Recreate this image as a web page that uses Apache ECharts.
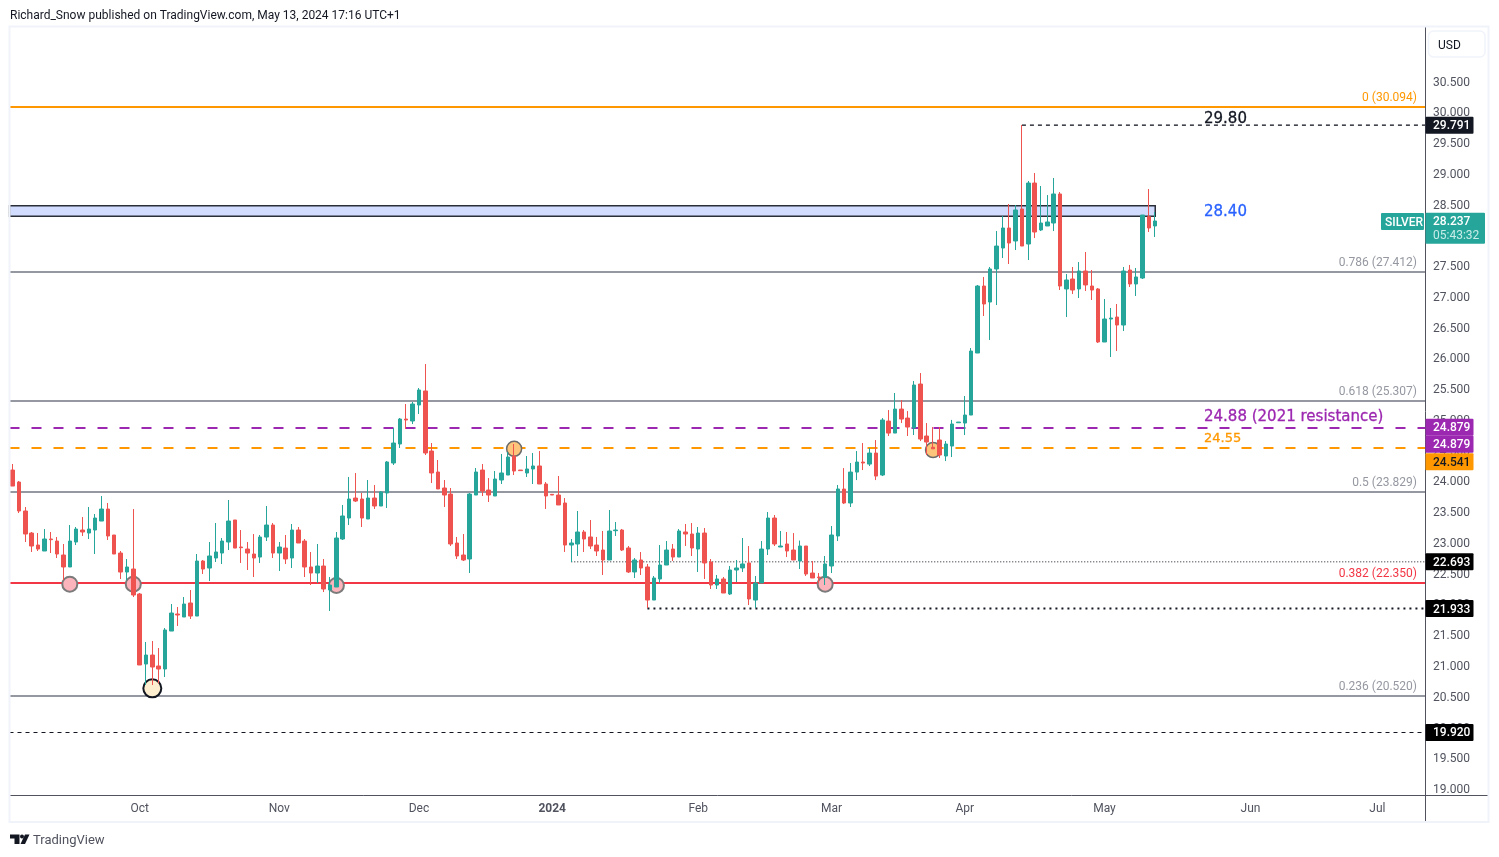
<!DOCTYPE html>
<html>
<head>
<meta charset="utf-8">
<title>Silver daily</title>
<script src="https://cdn.jsdelivr.net/npm/echarts@6/dist/echarts.min.js"></script>
<style>
html, body { margin: 0; padding: 0; background: #fff; }
#main { width: 1499px; height: 857px; }
</style>
</head>
<body>
<div id="main"></div>
<script>
var opens = [
	24.185,23.990,23.519,23.161,22.966,22.869,23.064,23.031,22.804,22.609,
	23.015,23.210,23.161,23.210,23.356,23.551,23.129,22.836,22.527,22.576,
	22.170,21.032,21.178,21.000,20.951,21.568,21.845,21.796,22.024,21.812,
	22.706,22.592,22.755,22.836,23.015,23.373,22.934,22.901,22.820,22.771,
	23.096,23.291,22.836,22.917,22.755,23.210,23.031,22.609,22.511,22.625,
	22.235,22.284,23.064,23.405,23.730,23.714,23.389,23.730,23.600,23.812,
	24.299,24.608,25.014,24.982,25.242,25.470,24.494,24.153,23.893,23.795,
	22.999,22.804,22.739,23.779,24.185,23.860,23.763,24.023,24.104,24.413,
	24.185,24.137,24.202,24.251,23.958,23.790,23.779,23.649,22.966,22.983,
	23.178,23.097,22.966,22.885,22.723,23.199,23.210,22.918,22.528,22.723,
	22.609,22.072,22.414,22.641,22.901,22.771,23.178,23.145,22.901,23.161,
	22.690,22.316,22.414,22.170,22.560,22.593,22.674,22.072,22.349,22.901,
	23.405,22.934,22.983,22.885,22.706,22.950,22.511,22.446,22.441,22.625,
	23.113,23.876,23.649,24.152,24.315,24.282,24.461,24.104,24.981,24.786,
	25.176,25.030,24.868,25.583,24.738,24.555,24.673,24.413,24.575,24.954,
	24.949,25.079,26.087,27.176,26.916,27.453,27.794,28.119,27.908,28.428,
	27.859,28.850,28.087,28.152,28.200,28.672,27.128,27.290,27.128,27.420,
	27.176,27.128,26.266,26.640,26.672,26.542,27.436,27.209,27.306,28.303,
	28.152
];
var closes = [
	23.925,23.519,23.145,22.950,22.901,23.064,23.053,22.820,22.609,23.031,
	23.226,23.178,23.226,23.405,23.551,23.113,22.820,22.527,22.609,22.154,
	21.016,21.178,20.983,20.951,21.585,21.861,21.829,22.007,21.812,22.706,
	22.576,22.788,22.853,23.031,23.356,22.917,22.923,22.836,22.755,23.096,
	23.291,22.836,22.934,22.739,23.210,22.999,22.609,22.511,22.625,22.251,
	22.316,23.080,23.438,23.714,23.681,23.405,23.730,23.600,23.828,24.316,
	24.624,25.014,24.998,25.258,25.486,24.462,24.137,23.877,23.779,22.983,
	22.788,22.723,23.795,24.153,23.844,23.779,24.039,24.137,24.397,24.169,
	24.175,24.202,24.251,23.958,23.763,23.779,23.617,22.966,22.999,23.178,
	23.064,22.950,22.869,22.723,23.194,23.210,22.885,22.528,22.723,22.593,
	22.072,22.430,22.641,22.885,22.771,23.194,23.145,22.918,23.161,22.674,
	22.316,22.414,22.186,22.560,22.593,22.658,22.089,22.349,22.901,23.405,
	22.983,22.950,22.869,22.723,22.950,22.495,22.430,22.435,22.658,23.129,
	23.877,23.649,24.152,24.315,24.299,24.461,24.087,24.998,24.786,25.176,
	25.014,24.884,25.567,24.689,24.640,24.530,24.429,24.608,24.933,24.965,
	25.079,26.119,27.176,26.884,27.453,27.826,28.119,27.875,28.412,27.826,
	28.850,28.054,28.200,28.217,28.672,27.176,27.274,27.111,27.420,27.193,
	27.111,26.266,26.640,26.656,26.542,27.420,27.209,27.323,28.330,28.119,
	28.233
];
var lows = [
	23.925,23.486,23.015,22.853,22.869,22.869,22.836,22.755,22.397,22.609,
	22.966,23.113,23.064,22.820,23.356,23.048,22.820,22.414,22.397,22.121,
	21.016,20.691,20.691,20.718,20.821,21.568,21.650,21.796,21.764,21.812,
	22.495,22.381,22.690,22.657,22.885,22.917,22.674,22.560,22.446,22.674,
	23.031,22.755,22.544,22.657,22.592,22.999,22.446,22.316,22.349,22.202,
	21.894,22.284,23.048,23.291,23.665,23.259,23.389,23.552,23.600,23.568,
	24.267,24.543,24.852,24.933,25.096,24.429,23.974,23.877,23.584,22.950,
	22.739,22.706,22.511,23.779,23.763,23.665,23.763,23.958,24.104,24.104,
	24.175,24.072,23.958,23.958,23.552,23.779,23.617,22.853,22.690,22.788,
	22.853,22.901,22.788,22.479,22.723,23.113,22.869,22.511,22.430,22.479,
	21.942,22.072,22.349,22.641,22.706,22.771,22.950,22.788,22.528,22.414,
	22.251,22.251,22.186,22.154,22.365,22.528,21.991,21.942,22.349,22.804,
	22.950,22.934,22.771,22.723,22.576,22.463,22.430,22.343,22.316,22.511,
	23.031,23.632,23.584,24.022,24.185,24.250,24.022,24.087,24.738,24.786,
	24.949,24.738,24.754,24.656,24.429,24.530,24.380,24.331,24.396,24.954,
	24.754,25.079,26.087,26.689,26.299,26.867,27.631,27.534,27.761,27.826,
	27.599,27.956,28.070,28.152,28.070,27.111,26.672,27.046,26.981,27.095,
	26.949,26.250,26.266,26.022,26.120,26.445,27.160,27.014,27.290,28.054,
	27.973
];
var highs = [
	24.283,24.007,23.584,23.178,23.161,23.226,23.178,23.096,22.983,23.291,
	23.259,23.421,23.584,23.470,23.763,23.649,23.129,22.869,22.739,23.551,
	22.186,21.390,21.406,21.292,21.617,22.007,21.959,22.121,22.235,22.820,
	22.723,23.015,23.324,23.080,23.698,23.373,23.210,23.015,23.145,23.129,
	23.600,23.324,23.015,23.129,23.308,23.259,23.064,22.853,22.983,22.739,
	22.446,23.178,23.617,24.072,24.137,23.812,24.023,23.942,23.844,24.332,
	24.868,25.031,25.258,25.291,25.518,25.908,24.624,24.348,24.023,23.893,
	23.097,23.145,23.812,24.218,24.283,24.055,24.169,24.446,24.478,24.608,
	24.185,24.413,24.462,24.494,23.990,23.795,24.088,23.730,23.064,23.519,
	23.210,23.373,23.097,23.194,23.535,23.340,23.227,22.950,22.755,22.853,
	22.658,22.463,22.966,23.031,22.983,23.226,23.308,23.324,23.259,23.243,
	22.739,22.479,22.446,22.625,22.723,23.080,22.950,22.463,23.031,23.503,
	23.454,23.194,23.178,23.161,23.039,22.950,22.706,22.511,22.788,23.275,
	23.942,24.217,24.299,24.494,24.624,24.543,24.673,25.030,25.160,25.437,
	25.323,25.144,25.632,25.762,24.949,24.884,24.884,24.656,25.000,24.965,
	25.388,26.168,27.193,27.323,27.485,28.070,28.314,28.509,28.493,29.793,
	28.883,29.013,28.802,28.655,28.932,28.704,27.371,27.485,27.566,27.729,
	27.436,27.144,26.965,26.819,26.884,27.485,27.518,27.469,28.330,28.753,
	28.379
];

var monthLabels = ['Oct', 'Nov', 'Dec', '2024', 'Feb', 'Mar', 'Apr', 'May', 'Jun', 'Jul'];
var monthStarts = [20, 42, 64, 85, 108, 129, 150, 172, 195, 215];
var priceTicks = [19, 19.5, 20, 20.5, 21, 21.5, 22, 22.5, 23, 23.5, 24, 24.5, 25, 25.5, 26, 26.5, 27, 27.5, 28, 28.5, 29, 29.5, 30, 30.5];

var fibLevels = [30.094, 27.412, 25.307, 23.829, 22.350, 20.520];
var fibNames = ['0 (30.094)', '0.786 (27.412)', '0.618 (25.307)', '0.5 (23.829)', '0.382 (22.350)', '0.236 (20.520)'];

var zoneTop = 28.481;
var zoneBottom = 28.309;
var zoneEnd = 180;

var resistance = 24.879;
var support = 24.541;
var lowDash = 19.920;
var highDash = 29.791, highDashStart = 159;
var thinDots = 22.693, thinDotsStart = 88;
var boldDots = 21.933, boldDotsStart = 100;

var redTouchIdx = [9, 19, 51, 128];
var redTouchPrice = [22.33, 22.33, 22.31, 22.33];
var orangeTouchIdx = [79, 145];
var orangeTouchPrice = [24.53, 24.51];
var lowTouchIdx = [22];
var lowTouchPrice = [20.637];

var noteTexts = ['29.80', '28.40', '24.88 (2021 resistance)', '24.55'];
var notePrices = [29.89, 28.38, 25.05, 24.70];
var noteIdx = 188;

var lastPrice = 28.237;
var countdown = '05:43:32';

var sessions = [];
(function () {
	var d = new Date(Date.UTC(2023, 8, 4));
	while (sessions.length < 223) {
		if (d.getUTCDay() !== 0 && d.getUTCDay() !== 6) sessions.push(d.toISOString().slice(0, 10));
		d.setUTCDate(d.getUTCDate() + 1);
	}
})();

// the hidden value axis spans the same bands, so lines and the zone can reach the plot edges
var axisStart = -0.5, axisEnd = sessions.length - 0.5;

var GREEN = '#26a69a', RED = '#ef5350', GREY = '#9598a1', ORANGE = '#ff9800', PURPLE = '#9c27b0', FIBRED = '#f23645';
var FONT = 'Roboto, sans-serif';
var fibColors = [ORANGE, GREY, GREY, GREY, FIBRED, GREY];
var noteColors = ['#131722', '#2962ff', PURPLE, ORANGE];
var noteSizes = [15, 15, 15, 13];

var myChart = echarts.init(document.getElementById('main'), null, { renderer: 'canvas' });

function fibLine(v, i) {
	return {
		yAxis: v,
		lineStyle: { color: fibColors[i], width: 2, type: 'solid' },
		label: {
			show: true, formatter: fibNames[i], position: 'insideEndTop', distance: [8, 3],
			color: fibColors[i], fontFamily: FONT, fontSize: 12
		}
	};
}
function plainLine(v, color, width, dash) {
	return { yAxis: v, lineStyle: { color: color, width: width, type: dash }, label: { show: false } };
}
function partLine(v, start, width, dash) {
	return {
		type: 'line', xAxisIndex: 1, silent: true, z: 1, symbol: 'none',
		data: [[start, v], [axisEnd, v]],
		lineStyle: { color: '#131722', width: width, type: dash }
	};
}

var option = {
	animation: false,
	backgroundColor: '#ffffff',
	title: {
		text: 'Richard_Snow published on TradingView.com, May 13, 2024 17:16 UTC+1',
		left: 5, top: 5,
		textStyle: { fontFamily: FONT, fontSize: 12, fontWeight: 'normal', color: '#131722' }
	},
	grid: { left: 9.5, right: 74, top: 28, bottom: 62 },
	xAxis: [{
		type: 'category',
		data: sessions,
		axisLine: { show: true, onZero: false, lineStyle: { color: '#50535e', width: 1 } },
		axisTick: { show: false },
		splitLine: { show: false },
		axisLabel: {
			interval: function (i) { return monthStarts.indexOf(i) >= 0; },
			formatter: function (v, i) {
				var t = monthLabels[monthStarts.indexOf(i)];
				return t === '2024' ? '{b|' + t + '}' : t;
			},
			color: '#50535e', fontFamily: FONT, fontSize: 12, margin: 8,
			rich: { b: { fontWeight: 'bold', color: '#50535e', fontFamily: FONT, fontSize: 12 } }
		}
	}, {
		type: 'value', show: false, min: axisStart, max: axisEnd, splitLine: { show: false }
	}],
	yAxis: {
		type: 'value',
		position: 'right',
		min: 18.903,
		max: 31.37,
		splitLine: { show: false },
		axisTick: { show: false },
		axisLine: { show: true, onZero: false, lineStyle: { color: '#50535e', width: 1 } },
		axisLabel: {
			customValues: priceTicks,
			formatter: function (v) { return '{p|' + v.toFixed(3) + '}'; },
			margin: 8,
			rich: { p: { color: '#50535e', fontFamily: FONT, fontSize: 12, padding: [2, 0, 0, 0] } }
		}
	},
	series: [
		{
			type: 'line', xAxisIndex: 1, silent: true, z: 1, symbol: 'none', data: [],
			markArea: {
				silent: true,
				itemStyle: { color: '#d1dcff', borderColor: '#2a2e39', borderWidth: 1.5 },
				data: [[{ coord: [axisStart - 2, zoneTop] }, { coord: [zoneEnd, zoneBottom] }]]
			}
		},
		partLine(highDash, highDashStart, 1.3, [4, 4]),
		partLine(thinDots, thinDotsStart, 1, [1, 2]),
		partLine(boldDots, boldDotsStart, 2, [2, 4]),
		{
			type: 'candlestick',
			name: 'SILVER',
			z: 3,
			barWidth: 4,
			data: opens.map(function (o, i) { return [o, closes[i], lows[i], highs[i]]; }),
			itemStyle: { color: GREEN, color0: RED, borderColor: GREEN, borderColor0: RED, borderWidth: 1 },
			markLine: {
				silent: true, z: 1, symbol: 'none', precision: 3,
				data: fibLevels.map(fibLine).concat([
					plainLine(resistance, PURPLE, 2, [10, 12]),
					plainLine(support, ORANGE, 2, [10, 12]),
					plainLine(lowDash, '#131722', 1, [4, 4])
				])
			},
			markPoint: {
				silent: true, symbolSize: 0,
				data: noteTexts.map(function (t, i) {
					return {
						coord: [noteIdx, notePrices[i]],
						label: {
							show: true, formatter: t, position: 'right', distance: 0, offset: [-2, 0],
							color: noteColors[i], fontFamily: '"DejaVu Sans"', fontSize: noteSizes[i],
							textBorderColor: noteColors[i], textBorderWidth: 0.3
						}
					};
				})
			}
		},
		{
			type: 'scatter', silent: true, z: 2, symbolSize: 15,
			data: redTouchIdx.map(function (x, i) { return [x, redTouchPrice[i]]; }),
			itemStyle: { color: '#fbb4bb', borderColor: '#7b7b7b', borderWidth: 2, opacity: 1 }
		},
		{
			type: 'scatter', silent: true, z: 2, symbolSize: 15,
			data: orangeTouchIdx.map(function (x, i) { return [x, orangeTouchPrice[i]]; }),
			itemStyle: { color: '#fdc57c', borderColor: '#6b6b6b', borderWidth: 1.5, opacity: 1 }
		},
		{
			type: 'scatter', silent: true, z: 2, symbolSize: 18,
			data: lowTouchIdx.map(function (x, i) { return [x, lowTouchPrice[i]]; }),
			itemStyle: { color: '#fdeecf', borderColor: '#131722', borderWidth: 2, opacity: 1 }
		}
	]
};
myChart.setOption(option);

function tag(value, text, bg, fg, dy) {
	var y = myChart.convertToPixel({ yAxisIndex: 0 }, value) + (dy || 0);
	return [
		{ type: 'rect', z: 20, shape: { x: 1425.5, y: y - 8.5, width: 48, height: 17, r: 1 }, style: { fill: bg } },
		{ type: 'text', z: 21, style: { x: 1433, y: y + 1, text: text, fill: fg, font: '500 12px ' + FONT, textVerticalAlign: 'middle' } }
	];
}

var lastY = myChart.convertToPixel({ yAxisIndex: 0 }, lastPrice);
var graphics = [
	{ type: 'rect', z: 30, shape: { x: 9.5, y: 26.5, width: 1479, height: 795.5 }, style: { fill: 'none', stroke: '#f0f3fa', lineWidth: 2 } },
	{ type: 'line', z: 19, shape: { x1: 1425.5, y1: 795, x2: 1425.5, y2: 822 }, style: { stroke: '#50535e', lineWidth: 1 } },
	{ type: 'line', z: 19, shape: { x1: 1425.5, y1: 27, x2: 1425.5, y2: 28 }, style: { stroke: '#50535e', lineWidth: 1 } },
	{ type: 'line', z: 19, shape: { x1: 1425.5, y1: 795.5, x2: 1488, y2: 795.5 }, style: { stroke: '#50535e', lineWidth: 1 } },
	{ type: 'rect', z: 20, shape: { x: 1428.5, y: 31, width: 56.5, height: 26, r: 5 }, style: { fill: '#fff', stroke: '#f0f3fa', lineWidth: 1.5 } },
	{ type: 'text', z: 21, style: { x: 1438, y: 45.5, text: 'USD', fill: '#131722', font: '12px ' + FONT, textVerticalAlign: 'middle' } },
	{ type: 'rect', z: 20, shape: { x: 1381, y: 213, width: 43, height: 17, r: 1 }, style: { fill: GREEN } },
	{ type: 'text', z: 21, style: { x: 1385, y: 222.5, text: 'SILVER', fill: '#fff', font: '500 12px ' + FONT, textVerticalAlign: 'middle' } },
	{ type: 'rect', z: 20, shape: { x: 1425.5, y: lastY - 8, width: 59.5, height: 31, r: 1 }, style: { fill: GREEN } },
	{ type: 'text', z: 21, style: { x: 1433, y: lastY + 1.5, text: lastPrice.toFixed(3), fill: '#fff', font: '500 12px ' + FONT, textVerticalAlign: 'middle' } },
	{ type: 'text', z: 21, style: { x: 1433, y: lastY + 15.5, text: countdown, fill: '#c8ece8', font: '12px ' + FONT, textVerticalAlign: 'middle' } },
	{ type: 'polygon', z: 21, shape: { points: [[10, 834.5], [19.5, 834.5], [19.5, 844], [14.5, 844], [14.5, 838.5], [10, 838.5]] }, style: { fill: '#131722' } },
	{ type: 'circle', z: 21, shape: { cx: 22, cy: 836.5, r: 2 }, style: { fill: '#131722' } },
	{ type: 'polygon', z: 21, shape: { points: [[25, 834.5], [29.5, 834.5], [25, 844], [20.5, 844]] }, style: { fill: '#131722' } },
	{ type: 'text', z: 21, style: { x: 33, y: 840.5, text: 'TradingView', fill: '#50535e', font: '13px ' + FONT, textVerticalAlign: 'middle' } }
]
	.concat(tag(highDash, highDash.toFixed(3), '#131722', '#fff'))
	.concat(tag(resistance, resistance.toFixed(3), PURPLE, '#fff'))
	.concat(tag(resistance, resistance.toFixed(3), PURPLE, '#fff', 17))
	.concat(tag(support, support.toFixed(3), ORANGE, '#131722', 13.5))
	.concat(tag(thinDots, thinDots.toFixed(3), '#000', '#fff'))
	.concat(tag(boldDots, boldDots.toFixed(3), '#000', '#fff'))
	.concat(tag(lowDash, lowDash.toFixed(3), '#000', '#fff'));

myChart.setOption({ graphic: graphics });
</script>
</body>
</html>
